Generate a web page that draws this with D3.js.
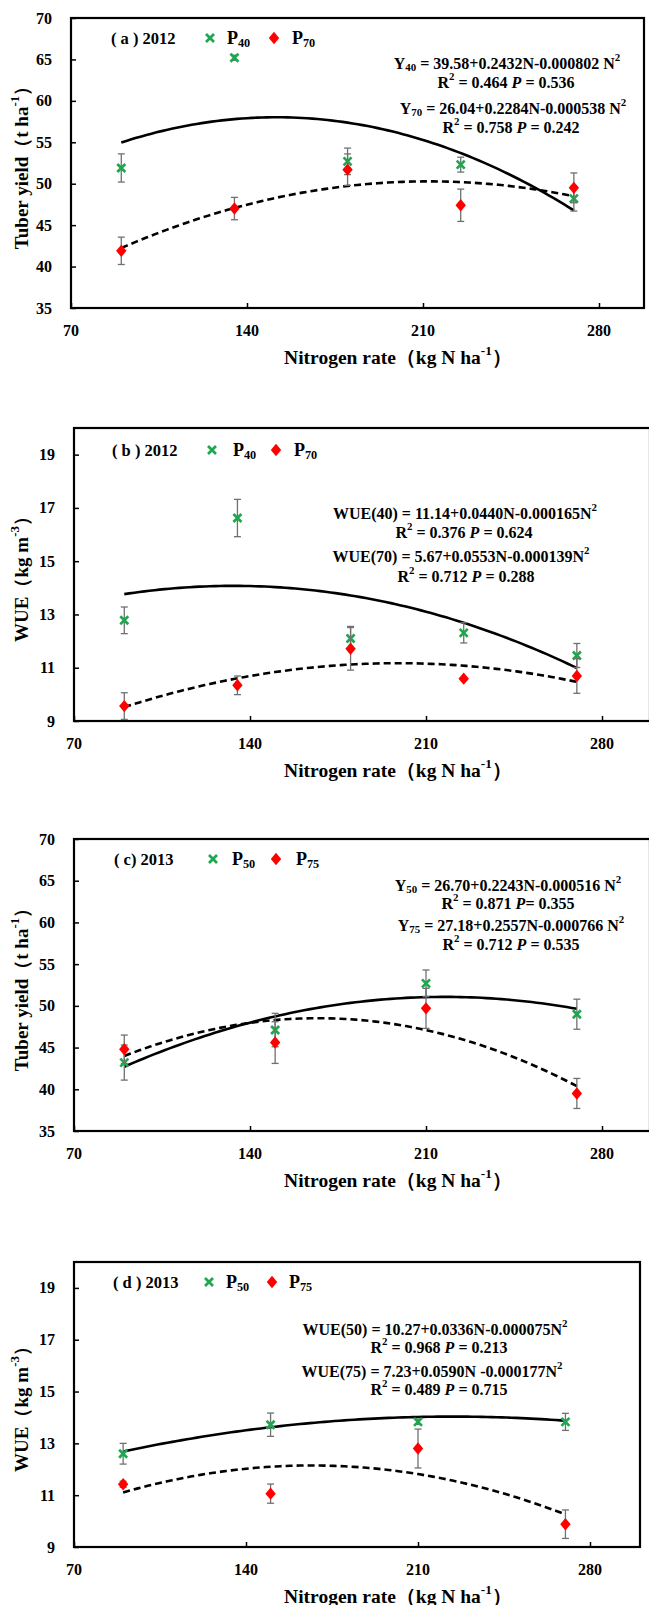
<!DOCTYPE html>
<html>
<head>
<meta charset="utf-8">
<script src="https://cdn.jsdelivr.net/npm/d3@7"></script>
<style>
  body { margin: 0; background: #fff; }
  text { font-family: "Liberation Serif", "Times New Roman", serif; font-weight: bold; fill: #000; }
</style>
</head>
<body>
<svg id="chart"></svg>
<script>
// Width and height of the page
var width = 649;
var height = 1605;

// nitrogen rates (kg N ha-1)
var nRates2012 = [90, 135, 180, 225, 270];
var nRates2013 = [90, 150, 210, 270];

// tick values
var xTicks = [70, 140, 210, 280];
var yieldTicks = [35, 40, 45, 50, 55, 60, 65, 70];
var wueTicks = [9, 11, 13, 15, 17, 19];

// (a) tuber yield 2012
var yield2012P40 = [51.9, 65.2, 52.7, 52.3, 48.2];
var yield2012P40Err = [1.7, 0.3, 1.6, 0.9, 1.5];
var yield2012P70 = [41.9, 47.0, 51.7, 47.4, 49.5];
var yield2012P70Err = [1.65, 1.35, 1.9, 1.95, 1.8];

// (b) WUE 2012
var wue2012P40 = [12.78, 16.62, 12.1, 12.31, 11.46];
var wue2012P40Err = [0.5, 0.7, 0.45, 0.38, 0.45];
var wue2012P70 = [9.56, 10.34, 11.71, 10.59, 10.69];
var wue2012P70Err = [0.5, 0.35, 0.8, 0.05, 0.65];

// (c) tuber yield 2013
var yield2013P50 = [43.2, 47.1, 52.7, 49.0];
var yield2013P50Err = [2.1, 2.0, 1.6, 1.8];
var yield2013P75 = [44.8, 45.6, 49.7, 39.5];
var yield2013P75Err = [1.7, 2.5, 2.4, 1.8];

// (d) WUE 2013
var wue2013P50 = [12.6, 13.72, 13.83, 13.83];
var wue2013P50Err = [0.4, 0.45, 0.1, 0.33];
var wue2013P75 = [11.42, 11.06, 12.8, 9.88];
var wue2013P75Err = [0.12, 0.37, 0.75, 0.55];

// quadratic trend coefficients [a, b, c] -> a + bN + cN^2
var fitYield2012P40 = [39.58, 0.2432, -0.000802];
var fitYield2012P70 = [26.04, 0.2284, -0.000538];
var fitWue2012P40 = [11.14, 0.0440, -0.000165];
var fitWue2012P70 = [5.67, 0.0553, -0.000139];
var fitYield2013P50 = [26.70, 0.2243, -0.000516];
var fitYield2013P75 = [27.18, 0.2557, -0.000766];
var fitWue2013P50 = [10.27, 0.0336, -0.000075];
var fitWue2013P75 = [7.23, 0.0590, -0.000177];

var green = "#1ea84e";
var red = "#ff0000";

var svg = d3.select("#chart")
    .attr("width", width)
    .attr("height", height);

// rich text helper: parts = [[text, "sub"|"sup"|"it"|""], ...]
function richText(g, x, y, parts, size, anchor) {
    var t = g.append("text")
        .attr("x", x)
        .attr("y", y)
        .attr("text-anchor", anchor || "middle")
        .attr("dominant-baseline", "central")
        .style("font-size", size + "px");
    var shift = 0;
    parts.forEach(function(p) {
        var target = 0;
        if (p[1] == "sub") target = size * 0.28;
        if (p[1] == "sup") target = -size * 0.35;
        var ts = t.append("tspan").attr("dy", target - shift).text(p[0]);
        shift = target;
        if (p[1] == "sub" || p[1] == "sup") ts.style("font-size", (size * 0.68) + "px");
        if (p[1] == "it") ts.style("font-style", "italic");
    });
    return t;
}

function drawPanel(cfg) {
    var x = d3.scaleLinear().domain([70, 280]).range([cfg.left, cfg.x280]);
    var y = d3.scaleLinear().domain(cfg.yDomain).range([cfg.bottom, cfg.top]);
    var g = svg.append("g");

    // frame
    g.append("rect")
        .attr("x", cfg.left).attr("y", cfg.top)
        .attr("width", cfg.right - cfg.left).attr("height", cfg.bottom - cfg.top)
        .attr("fill", "none").attr("stroke", "#000").attr("stroke-width", 2.2);

    // ticks pointing inward
    g.append("g").attr("transform", "translate(0," + cfg.bottom + ")")
        .call(d3.axisTop(x).tickValues(xTicks).tickSize(5).tickFormat(""))
        .call(function(a) { a.select(".domain").remove(); a.selectAll("line").attr("stroke-width", 1.5); });
    g.append("g").attr("transform", "translate(" + cfg.left + ",0)")
        .call(d3.axisRight(y).tickValues(cfg.yTicks).tickSize(5).tickFormat(""))
        .call(function(a) { a.select(".domain").remove(); a.selectAll("line").attr("stroke-width", 1.5); });

    // tick labels
    g.selectAll(".xl").data(xTicks).enter().append("text")
        .attr("x", function(d) { return x(d); })
        .attr("y", cfg.bottom + 22)
        .attr("text-anchor", "middle")
        .attr("dominant-baseline", "central")
        .style("font-size", "16px")
        .text(function(d) { return d; });
    g.selectAll(".yl").data(cfg.yTicks).enter().append("text")
        .attr("x", cfg.left - 19)
        .attr("y", function(d) { return y(d); })
        .attr("text-anchor", "end")
        .attr("dominant-baseline", "central")
        .style("font-size", "16px")
        .text(function(d) { return d; });

    // axis titles
    richText(g, 398, cfg.bottom + 49,
        [["Nitrogen rate（kg N ha", ""], ["-1", "sup"], ["）", ""]], 19.5);
    richText(g, 0, 0, cfg.yTitle, 19)
        .attr("transform", "translate(21," + ((cfg.top + cfg.bottom) / 2) + ") rotate(-90)");

    // trend curves
    var line = d3.line()
        .x(function(d) { return x(d); });
    cfg.fits.forEach(function(f, i) {
        var c = f.coef;
        g.append("path")
            .datum(d3.range(f.from, f.to + 0.01, 2))
            .attr("d", line.y(function(n) { return y(c[0] + c[1] * n + c[2] * n * n); }))
            .attr("fill", "none")
            .attr("stroke", "#000")
            .attr("stroke-width", 2.6)
            .attr("stroke-dasharray", i == 1 ? "7,4" : null);
    });

    // error bars and markers
    cfg.series.forEach(function(s) {
        var pts = s.values.map(function(v, i) { return { n: cfg.nRates[i], v: v, e: s.err[i] }; });
        var eb = g.append("g").attr("stroke", "#707070").attr("stroke-width", 1.3);
        pts.forEach(function(p) {
            var cx = x(p.n);
            eb.append("line").attr("x1", cx).attr("x2", cx).attr("y1", y(p.v - p.e)).attr("y2", y(p.v + p.e));
            eb.append("line").attr("x1", cx - 3.5).attr("x2", cx + 3.5).attr("y1", y(p.v - p.e)).attr("y2", y(p.v - p.e));
            eb.append("line").attr("x1", cx - 3.5).attr("x2", cx + 3.5).attr("y1", y(p.v + p.e)).attr("y2", y(p.v + p.e));
        });
        g.selectAll(null).data(pts).enter().append("path")
            .attr("transform", function(d) { return "translate(" + x(d.n) + "," + y(d.v) + ")"; })
            .attr("d", s.shape == "x" ? "M-4,-4L4,4M-4,4L4,-4" : "M0,-6.2L5.2,0L0,6.2L-5.2,0Z")
            .attr("fill", s.shape == "x" ? "none" : red)
            .attr("stroke", s.shape == "x" ? green : "none")
            .attr("stroke-width", 2.7);
    });

    // legend
    var L = cfg.legend;
    g.append("text").attr("x", L.label).attr("y", L.y)
        .attr("dominant-baseline", "central").style("font-size", "16.5px").text(cfg.label);
    g.append("path").attr("transform", "translate(" + L.m1 + "," + L.y + ")")
        .attr("d", "M-4,-4L4,4M-4,4L4,-4")
        .attr("fill", "none").attr("stroke", green).attr("stroke-width", 2.7);
    richText(g, L.t1, L.y, [["P", ""], [cfg.names[0], "sub"]], 18, "start");
    g.append("path").attr("transform", "translate(" + L.m2 + "," + L.y + ")")
        .attr("d", "M0,-6.2L5.2,0L0,6.2L-5.2,0Z").attr("fill", red);
    richText(g, L.t2, L.y, [["P", ""], [cfg.names[1], "sub"]], 18, "start");

    // equations
    cfg.equations.forEach(function(e) {
        richText(g, e.x, e.y, e.parts, 16);
    });
}

drawPanel({
    left: 71, right: 644, x280: 599, top: 18, bottom: 308,
    yDomain: [35, 70], yTicks: yieldTicks, nRates: nRates2012,
    yTitle: [["Tuber yield（t ha", ""], ["-1", "sup"], ["）", ""]],
    label: "( a ) 2012", names: ["40", "70"],
    legend: { y: 38, label: 111, m1: 210, t1: 227, m2: 274, t2: 292 },
    series: [
        { values: yield2012P40, err: yield2012P40Err, shape: "x" },
        { values: yield2012P70, err: yield2012P70Err, shape: "d" }
    ],
    fits: [
        { coef: fitYield2012P40, from: 90, to: 270 },
        { coef: fitYield2012P70, from: 90, to: 270 }
    ],
    equations: [
        { x: 507, y: 63, parts: [["Y", ""], ["40", "sub"], [" = 39.58+0.2432N-0.000802 N", ""], ["2", "sup"]] },
        { x: 506, y: 82, parts: [["R", ""], ["2", "sup"], [" = 0.464  ", ""], ["P", "it"], [" = 0.536", ""]] },
        { x: 513, y: 108, parts: [["Y", ""], ["70", "sub"], [" = 26.04+0.2284N-0.000538 N", ""], ["2", "sup"]] },
        { x: 511, y: 127, parts: [["R", ""], ["2", "sup"], [" = 0.758  ", ""], ["P", "it"], [" = 0.242", ""]] }
    ]
});

drawPanel({
    left: 74, right: 650, x280: 602, top: 428, bottom: 721,
    yDomain: [9, 20], yTicks: wueTicks, nRates: nRates2012,
    yTitle: [["WUE（kg m", ""], ["-3", "sup"], ["）", ""]],
    label: "( b ) 2012", names: ["40", "70"],
    legend: { y: 450, label: 112, m1: 212, t1: 233, m2: 276, t2: 294 },
    series: [
        { values: wue2012P40, err: wue2012P40Err, shape: "x" },
        { values: wue2012P70, err: wue2012P70Err, shape: "d" }
    ],
    fits: [
        { coef: fitWue2012P40, from: 90, to: 270 },
        { coef: fitWue2012P70, from: 90, to: 270 }
    ],
    equations: [
        { x: 465, y: 513, parts: [["WUE(40) = 11.14+0.0440N-0.000165N", ""], ["2", "sup"]] },
        { x: 464, y: 532, parts: [["R", ""], ["2", "sup"], [" = 0.376  ", ""], ["P", "it"], [" = 0.624", ""]] },
        { x: 461, y: 556, parts: [["WUE(70) = 5.67+0.0553N-0.000139N", ""], ["2", "sup"]] },
        { x: 466, y: 576, parts: [["R", ""], ["2", "sup"], [" = 0.712  ", ""], ["P", "it"], [" = 0.288", ""]] }
    ]
});

drawPanel({
    left: 74, right: 650, x280: 602, top: 839, bottom: 1131,
    yDomain: [35, 70], yTicks: yieldTicks, nRates: nRates2013,
    yTitle: [["Tuber yield（t ha", ""], ["-1", "sup"], ["）", ""]],
    label: "( c) 2013", names: ["50", "75"],
    legend: { y: 859, label: 114, m1: 213, t1: 232, m2: 276, t2: 296 },
    series: [
        { values: yield2013P50, err: yield2013P50Err, shape: "x" },
        { values: yield2013P75, err: yield2013P75Err, shape: "d" }
    ],
    fits: [
        { coef: fitYield2013P50, from: 90, to: 270 },
        { coef: fitYield2013P75, from: 90, to: 270 }
    ],
    equations: [
        { x: 508, y: 885, parts: [["Y", ""], ["50", "sub"], [" = 26.70+0.2243N-0.000516 N", ""], ["2", "sup"]] },
        { x: 508, y: 903, parts: [["R", ""], ["2", "sup"], [" = 0.871  ", ""], ["P", "it"], ["= 0.355", ""]] },
        { x: 511, y: 925, parts: [["Y", ""], ["75", "sub"], [" = 27.18+0.2557N-0.000766 N", ""], ["2", "sup"]] },
        { x: 511, y: 944, parts: [["R", ""], ["2", "sup"], [" = 0.712  ", ""], ["P", "it"], [" = 0.535", ""]] }
    ]
});

drawPanel({
    left: 74, right: 640, x280: 590, top: 1262, bottom: 1547,
    yDomain: [9, 20], yTicks: wueTicks, nRates: nRates2013,
    yTitle: [["WUE（kg m", ""], ["-3", "sup"], ["）", ""]],
    label: "( d ) 2013", names: ["50", "75"],
    legend: { y: 1282, label: 113, m1: 209, t1: 226, m2: 272, t2: 289 },
    series: [
        { values: wue2013P50, err: wue2013P50Err, shape: "x" },
        { values: wue2013P75, err: wue2013P75Err, shape: "d" }
    ],
    fits: [
        { coef: fitWue2013P50, from: 90, to: 270 },
        { coef: fitWue2013P75, from: 90, to: 270 }
    ],
    equations: [
        { x: 435, y: 1329, parts: [["WUE(50) = 10.27+0.0336N-0.000075N", ""], ["2", "sup"]] },
        { x: 439, y: 1347, parts: [["R", ""], ["2", "sup"], [" = 0.968  ", ""], ["P", "it"], [" = 0.213", ""]] },
        { x: 432, y: 1371, parts: [["WUE(75) = 7.23+0.0590N -0.000177N", ""], ["2", "sup"]] },
        { x: 439, y: 1389, parts: [["R", ""], ["2", "sup"], [" = 0.489  ", ""], ["P", "it"], [" = 0.715", ""]] }
    ]
});
</script>
</body>
</html>
